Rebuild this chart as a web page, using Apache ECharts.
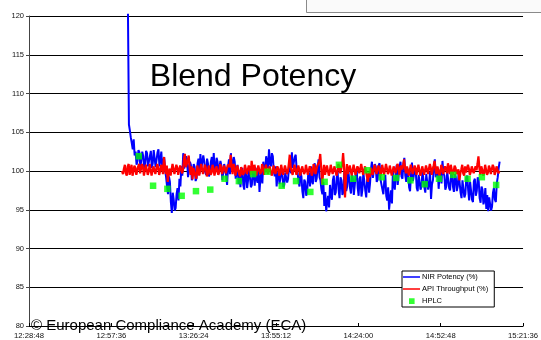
<!DOCTYPE html>
<html>
<head>
<meta charset="utf-8">
<script src="https://cdn.jsdelivr.net/npm/echarts@6/dist/echarts.min.js"></script>
<style>
html,body{margin:0;padding:0;background:#fff;}
#chart{width:541px;height:340px;}
</style>
</head>
<body>
<div id="chart"></div>
<script>
// ---- data (time in seconds since midnight) ----
const xTickLabels = ['12:28:48','12:57:36','13:26:24','13:55:12','14:24:00','14:52:48','15:21:36'];
const yTickValues = [80,85,90,95,100,105,110,115,120];

const nirStart = 47005;   // 13:03:25
const nirStep = 20;       // seconds between readings
const nirValues = [
 120.3,106.0,105.2,104.3,103.6,102.8,104.1,102.0,102.5,100.8,
 101.3,102.7,102.4,100.4,100.6,102.5,101.9,100.3,100.9,102.6,
 102.3,100.6,100.5,101.9,102.6,100.4,101.0,102.7,102.9,100.5,
 100.7,102.4,102.8,100.6,101.4,102.5,100.3,101.2,101.8,100.1,
 99.2,98.0,97.0,99.3,98.6,96.0,94.6,97.2,96.3,94.9,
 95.2,97.0,97.8,96.2,99.0,98.0,100.6,99.4,102.3,100.3,
 100.2,101.9,101.4,99.2,99.3,101.2,100.8,98.8,98.6,100.9,
 100.5,98.7,99.1,101.0,101.6,99.6,102.2,100.3,100.1,102.0,
 101.3,99.9,99.5,101.6,100.9,99.3,99.8,101.2,101.8,100.2,
 102.3,99.9,100.4,101.7,101.2,99.6,99.4,101.3,100.7,98.8,
 99.0,100.9,101.0,99.4,98.2,100.6,101.5,99.6,102.3,100.2,
 100.0,101.8,101.2,99.0,99.2,100.8,98.3,100.1,97.9,99.6,
 100.4,98.2,97.6,100.1,99.7,97.8,98.8,100.5,100.6,97.9,
 98.2,100.2,99.6,98.1,100.4,98.9,98.5,100.2,97.3,99.1,
 99.8,98.4,101.2,99.8,100.2,101.9,101.8,100.4,102.8,101.0,
 100.6,102.3,101.9,100.0,99.3,100.6,98.0,99.5,100.1,98.3,
 98.4,100.0,99.6,97.9,98.2,99.8,100.0,98.5,99.0,100.6,
 101.2,99.7,102.4,100.4,100.5,101.8,102.1,100.2,99.8,98.6,
 98.0,99.9,99.3,97.4,96.5,98.9,98.6,96.8,97.2,99.4,
 99.8,98.0,100.6,98.7,98.3,100.3,101.0,98.6,99.0,100.4,
 101.5,99.2,98.8,97.6,97.0,98.6,95.5,97.3,94.8,96.0,
 96.8,95.3,98.2,96.9,96.3,98.8,99.4,96.9,97.2,99.1,
 99.9,97.6,96.5,99.2,98.8,96.9,97.3,99.8,99.6,97.4,
 98.0,100.3,100.1,97.8,97.1,99.6,99.0,96.9,98.2,99.7,
 100.2,97.9,96.8,99.0,99.3,96.7,97.6,99.8,100.0,97.5,
 96.6,98.9,99.4,97.2,98.4,100.3,101.2,99.1,99.0,100.9,
 100.6,98.6,98.9,100.7,101.0,98.9,98.7,97.6,97.0,98.8,
 99.5,96.8,96.2,97.9,95.0,96.4,97.5,95.8,99.9,98.2,
 97.6,99.8,100.8,98.2,98.4,100.6,101.2,99.3,99.0,100.9,
 101.7,99.4,98.6,100.4,99.8,97.9,97.4,99.6,101.1,98.7,
 98.9,100.3,99.9,97.8,97.4,99.5,99.3,97.6,98.0,100.0,
 100.2,97.9,97.2,99.6,99.4,97.6,98.5,99.9,96.4,98.3,
 98.8,100.6,101.5,99.2,99.0,100.4,97.7,99.5,100.2,98.4,
 101.3,99.7,99.4,97.6,98.0,99.9,99.8,97.8,97.5,99.5,
 99.9,98.0,97.3,99.6,99.2,97.4,98.0,99.8,99.6,97.2,
 96.5,98.8,98.7,96.6,97.0,99.1,99.4,97.5,96.2,98.6,
 98.5,96.3,96.0,98.7,99.0,96.8,97.4,99.2,98.8,96.5,
 95.9,98.0,97.6,95.7,96.2,97.8,95.1,96.9,94.8,96.6,
 96.5,94.9,95.4,97.2,97.8,96.3,96.0,98.4,99.2,100.4,
 101.2
];

const apiStart = 46880;   // 13:01:20
const apiStep = 20;
const apiValues = [
 100.0,99.6,100.3,100.8,99.7,99.4,100.6,100.9,99.5,100.2,
 100.8,99.4,99.9,100.7,100.4,99.5,99.4,100.6,100.9,99.7,
 99.8,100.9,100.5,99.4,99.6,100.8,100.7,99.5,99.9,100.9,
 100.2,99.4,99.3,100.6,100.8,99.6,99.7,100.9,100.4,99.5,
 100.0,100.8,100.4,99.6,101.8,100.6,99.6,100.7,98.6,99.9,
 100.3,99.4,99.5,100.9,100.7,99.6,99.8,100.8,100.4,99.5,
 99.6,100.7,100.9,99.7,100.1,101.6,102.2,100.5,100.4,101.4,
 102.0,100.3,99.5,100.6,98.9,100.4,100.2,99.4,99.0,100.7,
 100.6,99.4,99.5,100.9,100.8,99.6,99.7,100.8,100.4,99.3,
 99.6,100.7,100.9,99.5,99.8,100.8,100.3,99.4,99.5,100.6,
 100.7,99.5,99.9,100.9,100.5,99.6,99.4,100.7,100.8,99.7,
 100.3,100.8,101.0,100.5,102.1,100.6,99.6,100.9,100.6,99.4,
 99.5,100.7,100.8,99.6,99.3,100.5,100.5,99.5,99.8,100.8,
 100.9,99.6,99.6,100.7,100.3,99.5,101.3,100.4,99.7,100.8,
 100.6,99.4,99.4,100.7,100.7,99.6,99.9,100.9,100.4,99.5,
 99.5,100.8,100.8,99.6,99.6,100.6,100.5,99.4,99.8,100.7,
 100.9,99.6,99.5,100.6,100.3,99.4,99.7,100.8,100.6,99.5,
 99.4,100.7,100.5,99.6,99.9,100.9,102.1,100.5,100.4,99.5,
 99.6,100.8,100.6,99.5,99.7,100.7,100.2,99.4,99.5,100.6,
 100.4,99.6,99.9,100.8,100.7,99.5,99.6,100.6,100.3,99.4,
 99.8,100.9,100.5,99.6,99.4,100.7,100.6,101.2,102.2,100.4,
 98.3,99.7,100.8,99.5,99.6,100.7,100.5,99.4,99.9,100.8,
 100.7,99.6,99.5,100.6,100.4,99.4,99.8,100.9,100.6,99.7,
 99.7,100.8,102.3,100.5,96.6,99.2,100.9,99.6,99.8,100.7,
 100.5,99.4,99.6,100.8,100.8,99.5,99.4,100.6,100.3,99.7,
 99.9,100.9,100.7,99.5,99.5,100.6,100.4,99.3,98.6,99.8,
 99.2,100.4,100.6,99.5,99.7,100.8,100.9,99.6,99.5,100.7,
 100.4,99.4,99.8,100.8,100.7,99.5,99.6,100.9,100.3,99.6,
 99.9,100.7,100.8,99.4,99.4,100.6,100.5,99.7,99.8,100.9,
 100.6,99.5,99.5,100.7,100.2,100.8,101.5,100.3,99.7,100.6,
 100.6,99.4,99.5,100.8,100.9,99.6,99.8,100.7,100.3,99.5,
 99.6,100.8,100.7,99.4,99.9,100.6,100.5,99.5,99.4,100.7,
 100.8,99.6,99.7,100.9,100.4,99.5,100.2,100.7,101.3,100.1,
 99.6,100.6,100.5,99.4,99.8,100.8,100.7,99.6,99.5,100.6,
 100.3,99.7,101.0,100.2,99.6,100.8,100.6,99.5,99.9,100.7,
 100.4,99.6,99.5,100.2,98.8,99.7,100.2,100.8,99.7,99.4,
 100.6,99.8,99.6,100.8,100.3,99.5,99.9,100.6,100.8,99.7,
 99.7,100.6,100.1,100.9,101.9,100.4,99.5,100.6,100.2,99.4,
 99.7,100.8,100.6,99.5,99.8,100.7,100.3,99.6,99.6,100.8,
 100.5,99.5,99.9,100.6,100.4,99.7,100.0
];

const hplcStart = 47232;  // 13:07:12
const hplcStep = 300;     // every 5 minutes
const hplcValues = [
 101.9,98.1,97.7,96.8,97.4,97.6,99.0,98.7,99.6,99.9,
 98.1,98.7,97.3,98.6,100.8,99.0,100.1,99.2,99.1,98.8,
 98.3,99.0,99.5,99.0,99.2,98.2
];

const seriesNames = ['NIR Potency (%)','API Throughput (%)','HPLC'];
const titleText = 'Blend Potency';
const copyrightText = '\u00A9 European Compliance Academy (ECA)';

function toSec(s){const p=s.split(':').map(Number);return p[0]*3600+p[1]*60+p[2];}
function fmt(sec){
  const h=Math.floor(sec/3600), m=Math.floor((sec%3600)/60), s=Math.round(sec%60);
  const pad=n=>String(n).padStart(2,'0');
  return h+':'+pad(m)+':'+pad(s);
}
const xMin = toSec(xTickLabels[0]);
const xMax = toSec(xTickLabels[xTickLabels.length-1]);
const xInterval = toSec(xTickLabels[1]) - xMin;

const nirData = nirValues.map((v,i)=>[nirStart+i*nirStep, v]);
const apiData = apiValues.map((v,i)=>[apiStart+i*apiStep, v]);
const hplcData = hplcValues.map((v,i)=>[hplcStart+i*hplcStep, v]);

const FONT = "'Liberation Sans', Arial, sans-serif";
const LINE_ICON = 'path://M0,0h0.01v0.01h-0.01z M0,3.3h17v1.4h-17z M16.99,7.99h0.01v0.01h-0.01z';
const SQUARE_ICON = 'path://M0,0h0.01v0.01h-0.01z M6,1.3h5.6v5.6h-5.6z M16.99,7.99h0.01v0.01h-0.01z';

const chart = echarts.init(document.getElementById('chart'), null, {renderer:'canvas'});
chart.setOption({
  animation:false,
  backgroundColor:'#ffffff',
  textStyle:{fontFamily:FONT},
  grid:{left:29,right:13,top:16,bottom:14,containLabel:false},
  xAxis:{
    type:'value', min:xMin, max:xMax, interval:xInterval,
    axisLine:{show:true,lineStyle:{color:'#000',width:1}},
    axisTick:{show:true,inside:true,length:3,lineStyle:{color:'#000'}},
    axisLabel:{formatter:v=>fmt(v),fontSize:7.7,color:'#111',margin:6,fontFamily:FONT,showMinLabel:true,showMaxLabel:true},
    splitLine:{show:false}
  },
  yAxis:{
    type:'value', min:yTickValues[0], max:yTickValues[yTickValues.length-1], interval:5,
    axisLine:{show:true,lineStyle:{color:'#444',width:1}},
    axisTick:{show:true,length:3,lineStyle:{color:'#444'}},
    axisLabel:{fontSize:7.5,color:'#111',margin:5,fontFamily:FONT},
    splitLine:{show:true,lineStyle:{color:'#000',width:1}}
  },
  legend:{
    data:[{name:seriesNames[0],icon:LINE_ICON},{name:seriesNames[1],icon:LINE_ICON},{name:seriesNames[2],icon:SQUARE_ICON}],
    orient:'vertical', left:402, top:271,
    itemWidth:17, itemHeight:8, itemGap:4,
    padding:[2,6,2,1],
    backgroundColor:'#fff', borderColor:'#000', borderWidth:1,
    textStyle:{fontSize:7.5,color:'#000',fontFamily:FONT,padding:[0,0,0,-3]}
  },
  series:[
    {name:seriesNames[0],type:'line',data:nirData,symbol:'none',clip:false,
     lineStyle:{color:'#0000ff',width:2},itemStyle:{color:'#0000ff'},z:2},
    {name:seriesNames[1],type:'line',data:apiData,symbol:'none',
     lineStyle:{color:'#ff0000',width:2.2},itemStyle:{color:'#ff0000'},z:3},
    {name:seriesNames[2],type:'scatter',data:hplcData,symbol:'rect',symbolSize:6.5,
     itemStyle:{color:'#00ff00'},z:4}
  ],
  graphic:[
    {type:'rect',left:306,top:-2,shape:{width:240,height:14},
     style:{fill:'#fafafa',stroke:'#8a8a8a',lineWidth:1},z:10},
    {type:'text',x:253,y:77,style:{text:titleText,font:"32px 'Liberation Sans', Arial, sans-serif",fill:'#000',textAlign:'center',textVerticalAlign:'middle'},z:10},
    {type:'text',x:31,y:326,style:{text:copyrightText,font:"15px 'Liberation Sans', Arial, sans-serif",fill:'#000',textAlign:'left',textVerticalAlign:'middle'},z:0}
  ]
});
</script>
</body>
</html>
